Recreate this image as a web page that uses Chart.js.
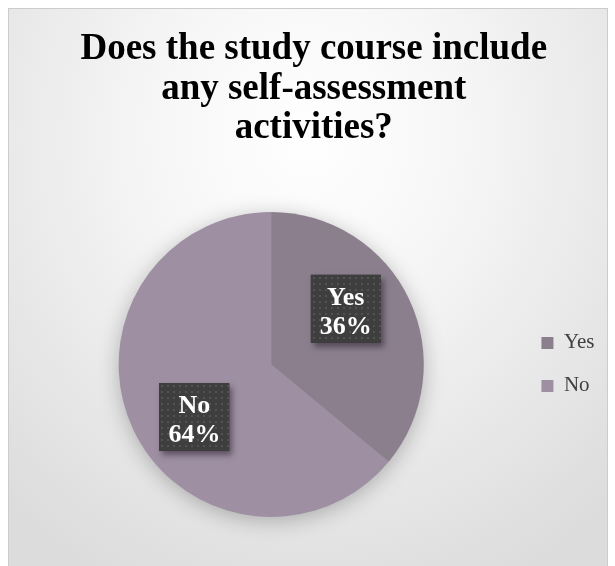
<!DOCTYPE html>
<html>
<head>
<meta charset="utf-8">
<title>Self-assessment activities</title>
<script src="https://cdn.jsdelivr.net/npm/chart.js@4.4.0/dist/chart.umd.min.js"></script>
<style>
  html, body { margin: 0; padding: 0; background: #ffffff; }
  #wrap { position: relative; width: 615px; height: 566px; overflow: hidden; }
  /* framed plot area with soft grey fade towards the edges */
  #frame {
    position: absolute; left: 8px; top: 8px; width: 598px; height: 580px;
    border: 1px solid #cccccc;
    background: radial-gradient(ellipse 75% 85% at 50% 22%, #ffffff 0%, #f6f6f6 35%, #e6e6e6 75%, #dcdcdc 100%);
  }
  #chart { position: absolute; left: 0; top: 0; }
</style>
</head>
<body>
<div id="wrap">
  <div id="frame"></div>
  <canvas id="chart" width="615" height="566"></canvas>
</div>
<script>
// answers and their share of responses (%)
const categories = ['Yes', 'No'];
const shares = [36, 64];
const sliceColors = ['#8b7f8d', '#9e90a2'];
const titleLines = ['Does the study course include', 'any self-assessment', 'activities?'];

const SERIF = "'Liberation Serif', 'Times New Roman', serif";

// soft shadow under the whole pie
const pieShadow = {
    id: 'pieShadow',
    beforeDatasetsDraw(chart) {
        const arc = chart.getDatasetMeta(0).data[0];
        if (!arc) return;
        const { x, y, outerRadius } = arc.getProps(['x', 'y', 'outerRadius'], true);
        const ctx = chart.ctx;
        ctx.save();
        ctx.shadowColor = 'rgba(0, 0, 0, 0.28)';
        ctx.shadowBlur = 22;
        ctx.shadowOffsetY = 4;
        ctx.fillStyle = sliceColors[1];
        ctx.beginPath();
        ctx.arc(x, y, outerRadius - 1, 0, Math.PI * 2);
        ctx.fill();
        ctx.restore();
    }
};

// dark dotted callout boxes with category + percentage
function dotPattern(ctx) {
    const c = document.createElement('canvas');
    c.width = 6; c.height = 6;
    const p = c.getContext('2d');
    p.fillStyle = '#3e3e3e';
    p.fillRect(0, 0, 6, 6);
    p.fillStyle = '#525252';
    p.fillRect(2, 2, 2, 2);
    return ctx.createPattern(c, 'repeat');
}

const boxLabels = {
    id: 'boxLabels',
    afterDatasetsDraw(chart, args, opts) {
        const ctx = chart.ctx;
        const meta = chart.getDatasetMeta(0);
        const fill = dotPattern(ctx);
        meta.data.forEach((arc, i) => {
            const { x, y, startAngle, endAngle, outerRadius } =
                arc.getProps(['x', 'y', 'startAngle', 'endAngle', 'outerRadius'], true);
            const a = startAngle + (endAngle - startAngle) * opts.anglePos[i];
            const r = outerRadius * opts.radiusPos;
            const cx = x + Math.cos(a) * r;
            const cy = y + Math.sin(a) * r;
            const w = opts.width, h = opts.height;

            ctx.save();
            ctx.shadowColor = 'rgba(40, 30, 45, 0.55)';
            ctx.shadowBlur = 6;
            ctx.shadowOffsetX = 3;
            ctx.shadowOffsetY = 4;
            ctx.fillStyle = '#3e3e3e';
            ctx.fillRect(cx - w / 2, cy - h / 2, w, h);
            ctx.restore();

            ctx.save();
            ctx.translate(Math.round(cx - w / 2), Math.round(cy - h / 2));
            ctx.fillStyle = fill;
            ctx.fillRect(0, 0, w, h);
            ctx.restore();

            ctx.save();
            ctx.fillStyle = '#ffffff';
            ctx.font = 'bold 26px ' + SERIF;
            ctx.textAlign = 'center';
            ctx.textBaseline = 'alphabetic';
            ctx.fillText(categories[i], cx, cy - 4);
            ctx.fillText(shares[i] + '%', cx, cy + 25);
            ctx.restore();
        });
    }
};

new Chart(document.getElementById('chart'), {
    type: 'pie',
    data: {
        labels: categories,
        datasets: [{
            data: shares,
            backgroundColor: sliceColors,
            borderWidth: 0
        }]
    },
    plugins: [pieShadow, boxLabels],
    options: {
        responsive: false,
        animation: false,
        devicePixelRatio: 1,
        layout: { padding: { left: 23, right: 10.5, top: 0, bottom: 49 } },
        plugins: {
            title: {
                display: true,
                text: titleLines,
                color: '#000000',
                font: { family: SERIF, size: 37, weight: 'bold', lineHeight: 1.08 },
                padding: { top: 29, bottom: 63 }
            },
            legend: {
                position: 'right',
                fullSize: false,
                labels: {
                    color: '#404040',
                    font: { family: SERIF, size: 21 },
                    boxWidth: 12,
                    boxHeight: 12,
                    padding: 22
                }
            },
            tooltip: { enabled: false },
            boxLabels: { anglePos: [0.41, 0.46], radiusPos: 0.61, width: 70, height: 68 }
        }
    }
});
</script>
</body>
</html>
